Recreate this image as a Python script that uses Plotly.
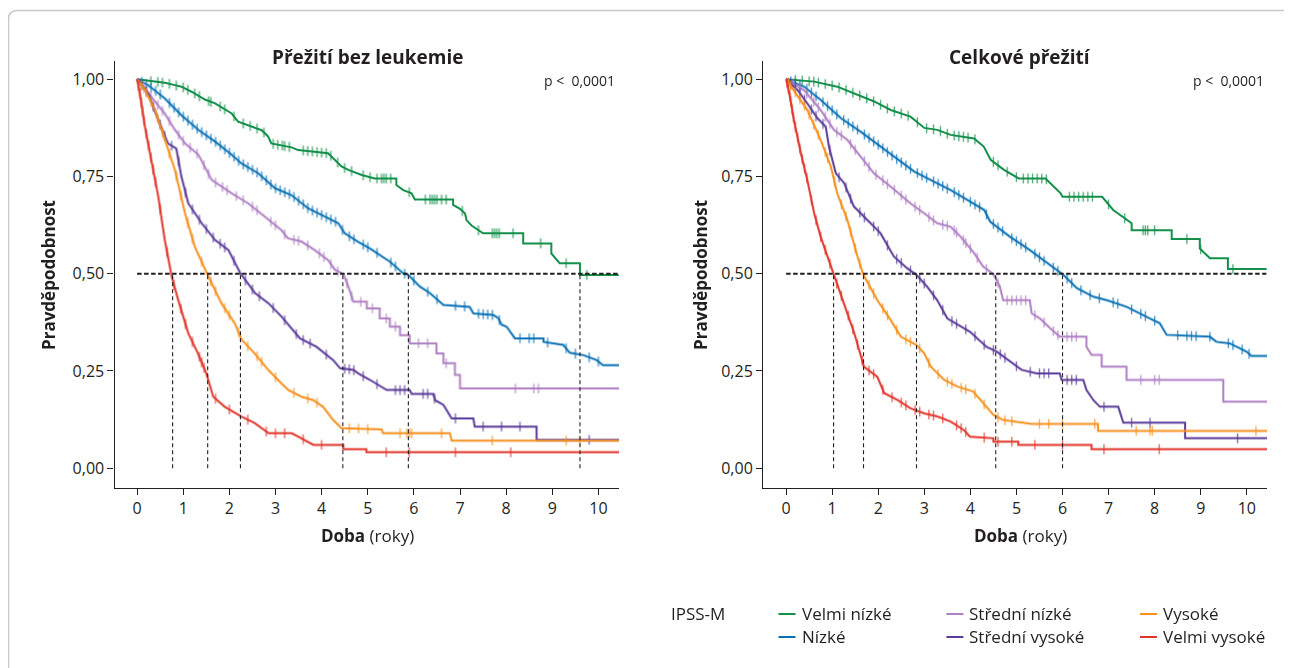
import plotly.graph_objects as go

# The page body adds an 8 px margin, so the figure is made 8 px smaller and
# all pixel positions below are given in screen pixels and shifted by OFF.
SCREEN_W, SCREEN_H = 1292, 668
OFF = 8
W, H = SCREEN_W - OFF, SCREEN_H - OFF
TXT = "#231f20"
FONT = "Open Sans"

groups = ["Velmi nízké", "Nízké", "Střední nízké", "Střední vysoké", "Vysoké", "Velmi vysoké"]
colors = ["#13904a", "#0a72b5", "#b07fc4", "#5b3b9a", "#f7901e", "#e3362b"]
legend_title = "IPSS-M"
panel_titles = ["Přežití bez leukemie", "Celkové přežití"]
y_title = "Pravděpodobnost"
x_title = "<b>Doba</b> (roky)"
p_text = "p <\u00a0 0,0001"

x_ticks = [0, 1, 2, 3, 4, 5, 6, 7, 8, 9, 10]
x_tick_labels = ["0", "1", "2", "3", "4", "5", "6", "7", "8", "9", "10"]
y_ticks = [0, 0.25, 0.5, 0.75, 1.0]
y_tick_labels = ["0,00", "0,25", "0,50", "0,75", "1,00"]

# ---------------- Panel 1: leukemia-free survival ----------------
lfs_green_t = [0, 0.24, 0.60, 0.82, 0.96, 1.18, 1.47, 1.69, 2.05, 2.19, 2.41, 2.70, 2.84, 2.91, 3.35, 3.49, 4.14, 4.29, 4.43, 4.58, 4.87, 5.15, 5.62, 5.62, 5.77, 5.95, 6.02, 6.85, 6.85, 7.0, 7.11, 7.14, 7.25, 7.50, 8.37, 8.37, 8.98, 8.98, 9.16, 9.60, 9.60, 10.5]
lfs_green_s = [1.0, 0.996, 0.991, 0.985, 0.981, 0.968, 0.948, 0.938, 0.912, 0.891, 0.882, 0.869, 0.853, 0.835, 0.825, 0.818, 0.810, 0.793, 0.776, 0.767, 0.754, 0.745, 0.745, 0.728, 0.715, 0.707, 0.691, 0.691, 0.677, 0.667, 0.655, 0.638, 0.624, 0.604, 0.604, 0.578, 0.578, 0.552, 0.527, 0.527, 0.497, 0.497]
lfs_blue_t = [0, 0.24, 0.60, 0.96, 1.33, 1.69, 2.05, 2.26, 2.63, 2.99, 3.35, 3.71, 4.07, 4.36, 4.50, 4.79, 5.05, 5.33, 5.48, 5.77, 5.88, 6.13, 6.35, 6.64, 7.21, 7.29, 7.72, 7.83, 7.90, 8.01, 8.19, 8.81, 8.81, 9.24, 9.38, 9.67, 9.96, 10.10, 10.5]
lfs_blue_s = [1.0, 0.985, 0.951, 0.908, 0.870, 0.840, 0.806, 0.784, 0.758, 0.720, 0.702, 0.668, 0.647, 0.630, 0.604, 0.582, 0.565, 0.544, 0.531, 0.501, 0.497, 0.467, 0.450, 0.420, 0.415, 0.398, 0.394, 0.386, 0.369, 0.364, 0.334, 0.334, 0.325, 0.317, 0.297, 0.291, 0.278, 0.265, 0.265]
lfs_lpur_t = [0, 0.24, 0.60, 0.82, 1.04, 1.33, 1.62, 2.05, 2.41, 2.77, 3.13, 3.27, 3.56, 3.85, 4.14, 4.29, 4.47, 4.58, 4.69, 4.98, 4.98, 5.26, 5.26, 5.48, 5.48, 5.70, 5.70, 5.91, 5.91, 6.49, 6.49, 6.64, 6.64, 6.89, 6.89, 7.0, 7.0, 10.5]
lfs_lpur_s = [1.0, 0.964, 0.912, 0.870, 0.835, 0.806, 0.741, 0.707, 0.681, 0.647, 0.612, 0.591, 0.583, 0.561, 0.535, 0.510, 0.499, 0.467, 0.428, 0.428, 0.411, 0.411, 0.385, 0.385, 0.364, 0.364, 0.342, 0.342, 0.321, 0.321, 0.295, 0.295, 0.270, 0.270, 0.240, 0.240, 0.205, 0.205]
lfs_dpur_t = [0, 0.24, 0.46, 0.67, 0.85, 0.96, 1.11, 1.40, 1.69, 1.98, 2.24, 2.56, 2.85, 3.13, 3.53, 3.89, 4.25, 4.40, 4.69, 4.79, 5.05, 5.41, 5.91, 5.95, 6.42, 6.46, 6.64, 6.71, 6.82, 7.29, 7.32, 8.66, 8.66, 10.5]
lfs_dpur_s = [1.0, 0.964, 0.895, 0.835, 0.822, 0.750, 0.681, 0.630, 0.587, 0.561, 0.501, 0.450, 0.424, 0.390, 0.334, 0.312, 0.278, 0.257, 0.253, 0.244, 0.227, 0.201, 0.201, 0.191, 0.191, 0.175, 0.163, 0.150, 0.128, 0.128, 0.107, 0.107, 0.073, 0.073]
lfs_oran_t = [0, 0.17, 0.39, 0.60, 0.82, 1.04, 1.25, 1.53, 1.83, 2.12, 2.27, 2.55, 2.85, 3.13, 3.28, 3.56, 3.82, 4.03, 4.25, 4.43, 5.30, 5.33, 6.78, 6.82, 10.5]
lfs_oran_s = [1.0, 0.973, 0.921, 0.844, 0.767, 0.655, 0.570, 0.497, 0.424, 0.372, 0.330, 0.295, 0.252, 0.218, 0.201, 0.184, 0.175, 0.158, 0.124, 0.103, 0.100, 0.090, 0.090, 0.071, 0.071]
lfs_red_t = [0, 0.06, 0.17, 0.31, 0.46, 0.60, 0.75, 0.89, 1.11, 1.32, 1.50, 1.65, 1.90, 2.26, 2.55, 2.85, 3.35, 3.53, 3.82, 4.47, 4.47, 4.97, 4.97, 10.5]
lfs_red_s = [1.0, 0.964, 0.878, 0.793, 0.698, 0.587, 0.493, 0.433, 0.347, 0.295, 0.244, 0.184, 0.158, 0.133, 0.116, 0.090, 0.090, 0.079, 0.060, 0.060, 0.049, 0.049, 0.041, 0.041]

lfs_green_c = [0.3, 0.45, 0.55, 0.7, 0.85, 1.0, 1.1, 1.25, 1.35, 1.55, 1.6, 1.8, 1.9, 2.1, 2.3, 2.45, 2.6, 2.75, 2.95, 3.05, 3.15, 3.2, 3.3, 3.6, 3.7, 3.8, 3.9, 4.0, 4.1, 4.2, 4.35, 4.5, 4.65, 4.9, 5.05, 5.2, 5.3, 5.35, 5.4, 5.5, 5.9, 6.25, 6.35, 6.4, 6.45, 6.5, 6.6, 6.7, 7.05, 7.4, 7.7, 7.75, 7.8, 7.85, 8.15, 8.75, 9.3, 9.75]
lfs_blue_c = [0.1, 0.2, 0.3, 0.4, 0.5, 0.7, 0.8, 0.9, 1.0, 1.1, 1.2, 1.3, 1.4, 1.5, 1.6, 1.7, 1.8, 1.9, 2.0, 2.1, 2.2, 2.3, 2.4, 2.5, 2.6, 2.7, 2.8, 2.9, 3.0, 3.1, 3.2, 3.3, 3.4, 3.5, 3.6, 3.7, 3.8, 3.9, 4.0, 4.1, 4.2, 4.3, 4.45, 4.6, 4.7, 4.9, 5.0, 5.2, 5.5, 5.6, 5.8, 6.0, 6.3, 6.5, 6.9, 7.1, 7.4, 7.5, 7.6, 7.7, 7.85, 8.3, 8.5, 8.6, 8.9, 9.3, 9.5, 9.8, 10.0]
lfs_lpur_c = [0.15, 0.3, 0.45, 0.55, 0.7, 0.9, 1.0, 1.15, 1.3, 1.45, 1.55, 1.7, 1.85, 1.95, 2.15, 2.3, 2.5, 2.6, 2.9, 3.0, 3.2, 3.4, 3.5, 3.7, 3.95, 4.05, 4.2, 4.35, 4.55, 4.65, 4.85, 5.1, 5.4, 5.6, 6.1, 6.3, 6.7, 8.2, 8.6, 8.7]
lfs_dpur_c = [0.1, 0.2, 0.35, 0.5, 0.6, 0.75, 0.9, 1.05, 1.2, 1.35, 1.5, 1.65, 1.8, 1.9, 2.1, 2.35, 2.5, 2.65, 2.95, 3.2, 3.45, 3.6, 3.75, 4.1, 4.5, 4.6, 4.7, 4.9, 5.2, 5.6, 5.7, 5.8, 6.2, 6.3, 6.45, 6.9, 7.5, 7.9, 8.3, 9.8]
lfs_oran_c = [0.1, 0.2, 0.3, 0.45, 0.55, 0.7, 0.85, 0.95, 1.1, 1.2, 1.4, 1.6, 1.7, 1.9, 2.0, 2.2, 2.4, 2.6, 2.7, 3.0, 3.4, 3.7, 3.9, 4.6, 4.8, 5.0, 5.7, 5.85, 5.9, 5.95, 6.6, 7.7, 9.3, 9.6]
lfs_red_c = [0.03, 0.06, 0.09, 0.12, 0.15, 0.2, 0.25, 0.3, 0.35, 0.4, 0.5, 0.65, 0.8, 0.95, 1.05, 1.2, 1.35, 1.4, 1.45, 1.7, 2.0, 2.4, 2.8, 3.0, 3.2, 3.6, 4.0, 5.4, 5.9, 6.9, 8.1]

lfs_medians = [9.60, 5.88, 4.46, 2.24, 1.53, 0.77]

# ---------------- Panel 2: overall survival ----------------
os_green_t = [0, 0.61, 1.11, 1.48, 1.91, 2.27, 2.70, 3.0, 3.28, 3.57, 4.08, 4.29, 4.44, 4.73, 5.05, 5.63, 5.78, 5.96, 6.0, 6.86, 7.10, 7.25, 7.50, 7.50, 8.37, 8.37, 8.98, 8.98, 9.20, 9.59, 9.59, 10.5]
os_green_s = [1.0, 0.994, 0.981, 0.964, 0.943, 0.921, 0.904, 0.875, 0.870, 0.857, 0.848, 0.827, 0.793, 0.767, 0.745, 0.745, 0.728, 0.707, 0.698, 0.698, 0.664, 0.651, 0.630, 0.612, 0.612, 0.589, 0.589, 0.565, 0.540, 0.540, 0.512, 0.512]
os_blue_t = [0, 0.39, 0.75, 1.19, 1.62, 2.05, 2.42, 2.78, 3.14, 3.57, 3.93, 4.30, 4.43, 4.86, 5.29, 5.73, 6.02, 6.31, 6.67, 6.96, 7.39, 7.90, 8.11, 8.26, 9.20, 9.34, 9.63, 9.99, 10.10, 10.5]
os_blue_s = [1.0, 0.981, 0.947, 0.900, 0.865, 0.827, 0.793, 0.763, 0.741, 0.715, 0.690, 0.664, 0.634, 0.595, 0.561, 0.522, 0.497, 0.463, 0.441, 0.432, 0.415, 0.385, 0.373, 0.343, 0.338, 0.325, 0.321, 0.300, 0.289, 0.289]
os_lpur_t = [0, 0.39, 0.75, 1.04, 1.33, 1.62, 1.91, 2.27, 2.70, 3.0, 3.28, 3.57, 3.79, 4.08, 4.28, 4.50, 4.64, 4.71, 5.29, 5.33, 5.51, 5.73, 5.94, 6.52, 6.52, 6.63, 6.85, 6.85, 7.39, 7.39, 9.49, 9.49, 10.5]
os_lpur_s = [1.0, 0.972, 0.921, 0.870, 0.844, 0.801, 0.758, 0.724, 0.681, 0.655, 0.630, 0.621, 0.595, 0.553, 0.518, 0.499, 0.467, 0.432, 0.432, 0.398, 0.385, 0.360, 0.338, 0.338, 0.312, 0.291, 0.291, 0.261, 0.261, 0.227, 0.227, 0.171, 0.171]
os_dpur_t = [0, 0.25, 0.46, 0.68, 0.86, 0.93, 1.08, 1.26, 1.47, 1.76, 2.05, 2.34, 2.63, 2.83, 3.06, 3.28, 3.50, 3.99, 4.35, 4.57, 4.86, 5.11, 5.44, 5.94, 5.98, 6.45, 6.52, 6.67, 6.81, 7.21, 7.32, 8.66, 8.66, 10.5]
os_dpur_s = [1.0, 0.972, 0.938, 0.900, 0.878, 0.827, 0.758, 0.733, 0.673, 0.638, 0.604, 0.544, 0.514, 0.497, 0.467, 0.432, 0.385, 0.351, 0.312, 0.300, 0.274, 0.253, 0.244, 0.244, 0.227, 0.227, 0.201, 0.175, 0.158, 0.158, 0.117, 0.117, 0.077, 0.077]
os_oran_t = [0, 0.17, 0.46, 0.75, 0.97, 1.11, 1.33, 1.55, 1.68, 1.98, 2.27, 2.49, 2.83, 3.0, 3.14, 3.43, 3.72, 4.06, 4.28, 4.50, 4.71, 5.33, 6.77, 6.77, 10.5]
os_oran_s = [1.0, 0.972, 0.921, 0.844, 0.776, 0.707, 0.638, 0.544, 0.497, 0.432, 0.381, 0.338, 0.317, 0.295, 0.261, 0.227, 0.210, 0.197, 0.167, 0.137, 0.124, 0.114, 0.114, 0.096, 0.096]
os_red_t = [0, 0.07, 0.17, 0.32, 0.46, 0.61, 0.75, 0.90, 1.03, 1.26, 1.48, 1.69, 1.98, 2.13, 2.42, 2.70, 3.0, 3.28, 3.57, 3.86, 3.99, 4.50, 4.50, 5.04, 5.04, 6.63, 6.63, 10.5]
os_red_s = [1.0, 0.964, 0.895, 0.810, 0.741, 0.655, 0.595, 0.544, 0.497, 0.424, 0.347, 0.261, 0.235, 0.193, 0.175, 0.154, 0.141, 0.133, 0.120, 0.098, 0.081, 0.077, 0.068, 0.068, 0.060, 0.060, 0.049, 0.049]

os_green_c = [0.2, 0.35, 0.5, 0.6, 0.7, 0.85, 1.0, 1.15, 1.3, 1.45, 1.6, 1.75, 1.9, 2.05, 2.2, 2.35, 2.5, 2.65, 2.85, 3.05, 3.2, 3.35, 3.5, 3.65, 3.75, 3.85, 3.95, 4.1, 4.5, 4.6, 4.8, 5.0, 5.15, 5.25, 5.35, 5.45, 5.55, 5.65, 6.15, 6.25, 6.35, 6.45, 6.55, 6.65, 7.0, 7.35, 7.75, 7.8, 7.85, 8.0, 8.7, 9.0, 9.7]
os_blue_c = [0.1, 0.2, 0.3, 0.45, 0.55, 0.65, 0.8, 0.9, 1.0, 1.1, 1.25, 1.35, 1.45, 1.55, 1.7, 1.8, 1.9, 2.0, 2.1, 2.2, 2.3, 2.4, 2.5, 2.6, 2.7, 2.85, 2.95, 3.05, 3.2, 3.3, 3.4, 3.5, 3.65, 3.75, 3.85, 4.0, 4.1, 4.2, 4.35, 4.5, 4.6, 4.7, 4.9, 5.0, 5.1, 5.2, 5.4, 5.5, 5.6, 5.8, 5.9, 6.1, 6.2, 6.4, 6.6, 6.8, 7.1, 7.2, 7.5, 7.7, 7.8, 8.0, 8.5, 8.7, 8.8, 8.9, 9.2, 9.6, 9.7, 9.9, 10.05]
os_lpur_c = [0.15, 0.3, 0.45, 0.6, 0.7, 0.85, 0.95, 1.1, 1.2, 1.4, 1.5, 1.7, 1.8, 1.95, 2.1, 2.2, 2.35, 2.5, 2.6, 2.8, 2.9, 3.1, 3.2, 3.4, 3.5, 3.65, 3.7, 3.85, 3.9, 4.0, 4.15, 4.35, 4.6, 4.8, 4.9, 5.0, 5.1, 5.2, 5.4, 5.6, 5.8, 5.9, 6.1, 6.2, 6.3, 7.7, 8.0, 8.1]
os_dpur_c = [0.1, 0.2, 0.3, 0.4, 0.55, 0.65, 0.8, 0.95, 1.15, 1.3, 1.4, 1.6, 1.7, 1.9, 2.0, 2.2, 2.4, 2.5, 2.7, 2.9, 3.0, 3.2, 3.4, 3.6, 3.7, 3.9, 4.1, 4.3, 4.5, 4.65, 4.75, 5.0, 5.3, 5.5, 5.6, 5.7, 6.1, 6.2, 6.3, 6.9, 7.5, 7.9, 9.8]
os_oran_c = [0.05, 0.1, 0.2, 0.3, 0.4, 0.5, 0.6, 0.7, 0.85, 0.9, 1.05, 1.2, 1.3, 1.4, 1.5, 1.6, 1.8, 1.9, 2.1, 2.2, 2.4, 2.6, 2.7, 2.9, 3.1, 3.3, 3.5, 3.6, 3.8, 3.9, 4.1, 4.3, 4.6, 4.75, 4.9, 5.5, 5.7, 6.0, 6.7, 7.6, 7.9, 7.95, 10.2]
os_red_c = [0.02, 0.05, 0.08, 0.1, 0.13, 0.16, 0.2, 0.25, 0.3, 0.35, 0.4, 0.45, 0.55, 0.65, 0.75, 0.85, 0.95, 1.1, 1.2, 1.35, 1.45, 1.55, 1.65, 1.8, 1.9, 2.1, 2.3, 2.5, 2.6, 2.8, 2.9, 3.1, 3.2, 3.4, 3.7, 3.8, 3.9, 4.3, 4.6, 4.9, 5.4, 6.0, 6.9, 8.1]

os_medians = [6.0, 4.55, 2.83, 1.68, 1.03]

median_level = 0.5

panels = [
    dict(xa="x", ya="y",
         curves=[(lfs_green_t, lfs_green_s, lfs_green_c), (lfs_blue_t, lfs_blue_s, lfs_blue_c),
                 (lfs_lpur_t, lfs_lpur_s, lfs_lpur_c), (lfs_dpur_t, lfs_dpur_s, lfs_dpur_c),
                 (lfs_oran_t, lfs_oran_s, lfs_oran_c), (lfs_red_t, lfs_red_s, lfs_red_c)],
         medians=lfs_medians),
    dict(xa="x2", ya="y2",
         curves=[(os_green_t, os_green_s, os_green_c), (os_blue_t, os_blue_s, os_blue_c),
                 (os_lpur_t, os_lpur_s, os_lpur_c), (os_dpur_t, os_dpur_s, os_dpur_c),
                 (os_oran_t, os_oran_s, os_oran_c), (os_red_t, os_red_s, os_red_c)],
         medians=os_medians),
]


def on_curve(ts, ss, c):
    """Value of the drawn polyline at time c (so censor ticks sit on the line)."""
    for i in range(len(ts) - 1):
        if ts[i] <= c <= ts[i + 1] and ts[i + 1] > ts[i]:
            f = (c - ts[i]) / (ts[i + 1] - ts[i])
            return ss[i] + f * (ss[i + 1] - ss[i])
    return ss[-1]


fig = go.Figure()

for p in panels:
    for (ts, ss, cs), name, col in zip(p["curves"], groups, colors):
        fig.add_trace(go.Scatter(x=ts, y=ss, mode="lines", name=name, showlegend=False,
                                 line=dict(color=col, width=2), xaxis=p["xa"], yaxis=p["ya"],
                                 hoverinfo="skip"))
        fig.add_trace(go.Scatter(x=cs, y=[on_curve(ts, ss, c) for c in cs], mode="markers",
                                 showlegend=False, opacity=0.8,
                                 marker=dict(symbol="line-ns", size=7,
                                             line=dict(color=col, width=1.3)),
                                 xaxis=p["xa"], yaxis=p["ya"], hoverinfo="skip"))
    # median guide lines
    vx, vy = [], []
    for m in p["medians"]:
        vx += [m, m, None]
        vy += [0, median_level, None]
    fig.add_trace(go.Scatter(x=vx, y=vy, mode="lines", showlegend=False,
                             line=dict(color="#231f20", width=1.1, dash="4px,3px"),
                             xaxis=p["xa"], yaxis=p["ya"], hoverinfo="skip"))
    fig.add_trace(go.Scatter(x=[0, 10.6], y=[median_level, median_level], mode="lines",
                             showlegend=False,
                             line=dict(color="#231f20", width=2, dash="4.5px,2.5px"),
                             xaxis=p["xa"], yaxis=p["ya"], hoverinfo="skip"))

# ---------------- layout ----------------
def px_x(v):
    return (v - OFF) / W


def px_y(v):
    return 1 - (v - OFF) / H


axis_common = dict(showgrid=False, zeroline=False, showline=True, linecolor=TXT, linewidth=1.2,
                   ticks="outside", ticklen=6, tickwidth=1.2, tickcolor=TXT,
                   tickfont=dict(family=FONT, size=16, color=TXT))

ydom = [px_y(487.9), px_y(61.4)]
fig.update_layout(
    width=W, height=H, margin=dict(l=0, r=0, t=0, b=0),
    paper_bgcolor="white", plot_bgcolor="white", showlegend=False,
    font=dict(family=FONT, color=TXT),
    xaxis=dict(domain=[px_x(114.5), px_x(618.7)], range=[-0.49, 10.44], anchor="y",
               tickvals=x_ticks, ticktext=x_tick_labels, **axis_common),
    yaxis=dict(domain=ydom, range=[-0.0507, 1.046], anchor="x",
               tickvals=y_ticks, ticktext=y_tick_labels, **axis_common),
    xaxis2=dict(domain=[px_x(763.1), px_x(1266.6)], range=[-0.50, 10.43], anchor="y2",
                tickvals=x_ticks, ticktext=x_tick_labels, **axis_common),
    yaxis2=dict(domain=ydom, range=[-0.0507, 1.046], anchor="x2",
                tickvals=y_ticks, ticktext=y_tick_labels, **axis_common),
)

ann = []
title_cx = [367, 1020]
ytitle_x = [48.4, 700.3]
p_right = [617, 1266]
for i in range(2):
    ann.append(dict(x=px_x(title_cx[i]), y=px_y(57), xref="paper", yref="paper",
                    text="<b>" + panel_titles[i] + "</b>", showarrow=False,
                    font=dict(family=FONT, size=19, color=TXT), xanchor="center", yanchor="middle"))
    ann.append(dict(x=px_x(ytitle_x[i]), y=px_y(274.6), xref="paper", yref="paper",
                    text="<b>" + y_title + "</b>", showarrow=False, textangle=-90,
                    font=dict(family=FONT, size=17, color=TXT), xanchor="center", yanchor="middle"))
    ann.append(dict(x=px_x(title_cx[i]), y=px_y(535.7), xref="paper", yref="paper",
                    text=x_title, showarrow=False,
                    font=dict(family=FONT, size=17, color=TXT), xanchor="center", yanchor="middle"))
    ann.append(dict(x=px_x(p_right[i]), y=px_y(80.5), xref="paper", yref="paper",
                    text=p_text, showarrow=False,
                    font=dict(family=FONT, size=14, color=TXT), xanchor="right", yanchor="middle"))

# legend (drawn manually to match the 3-column layout)
leg_col_x = [778.5, 946.4, 1140]
leg_row_y = [613, 636]
ann.append(dict(x=px_x(669), y=px_y(613), xref="paper", yref="paper", text=legend_title,
                showarrow=False, font=dict(family=FONT, size=17, color=TXT),
                xanchor="left", yanchor="middle"))
shapes = []
for i, (name, col) in enumerate(zip(groups, colors)):
    cx = leg_col_x[i // 2]
    ry = leg_row_y[i % 2]
    shapes.append(dict(type="line", xref="paper", yref="paper", x0=px_x(cx), x1=px_x(cx + 17),
                       y0=px_y(ry + 1), y1=px_y(ry + 1), line=dict(color=col, width=2)))
    ann.append(dict(x=px_x(cx + 21), y=px_y(ry), xref="paper", yref="paper", text=name,
                    showarrow=False, font=dict(family=FONT, size=17, color=TXT),
                    xanchor="left", yanchor="middle"))

# outer rounded frame
r = 9
x0, y0 = 8.5, 10.5
path = (f"M {px_x(x0)},{px_y(SCREEN_H + 5)} L {px_x(x0)},{px_y(y0 + r)} "
        f"Q {px_x(x0)},{px_y(y0)} {px_x(x0 + r)},{px_y(y0)} L {px_x(SCREEN_W + 5)},{px_y(y0)}")
shapes.append(dict(type="path", xref="paper", yref="paper", path=path,
                   line=dict(color="#c8c8c8", width=1.5)))

fig.update_layout(annotations=ann, shapes=shapes)
fig.write_html("out.html")
